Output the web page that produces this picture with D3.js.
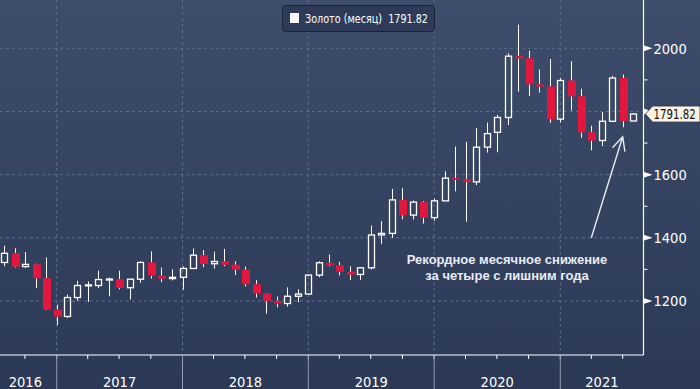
<!DOCTYPE html>
<html>
  <head>
    <meta charset="utf-8">
    <title>Золото (месяц)</title>
    <script src="https://d3js.org/d3.v7.min.js"></script>
    <style>
      body { margin: 0; background: #34425f; }
      .axis-label { font-family: "Liberation Sans Narrow", "DejaVu Sans Condensed", sans-serif; font-size: 14.5px; fill: #ffffff; }
      .note { font-family: "Liberation Sans", Arial, sans-serif; font-size: 13px; font-weight: bold; fill: #e8ecf2; }
    </style>
  </head>
  <body>
    <svg width="700" height="389"></svg>
    <script>
      // monthly gold candles, Jul 2016 - Jul 2021
      const months = ["2016-07","2016-08","2016-09","2016-10","2016-11","2016-12",
        "2017-01","2017-02","2017-03","2017-04","2017-05","2017-06","2017-07","2017-08","2017-09","2017-10","2017-11","2017-12",
        "2018-01","2018-02","2018-03","2018-04","2018-05","2018-06","2018-07","2018-08","2018-09","2018-10","2018-11","2018-12",
        "2019-01","2019-02","2019-03","2019-04","2019-05","2019-06","2019-07","2019-08","2019-09","2019-10","2019-11","2019-12",
        "2020-01","2020-02","2020-03","2020-04","2020-05","2020-06","2020-07","2020-08","2020-09","2020-10","2020-11","2020-12",
        "2021-01","2021-02","2021-03","2021-04","2021-05","2021-06","2021-07"];
      const opens = [1322,1351,1309,1316,1272,1173,
        1151,1211,1249,1249,1268,1269,1242,1269,1322,1280,1271,1275,
        1303,1345,1318,1325,1315,1299,1253,1224,1201,1192,1215,1222,
        1282,1321,1313,1292,1284,1305,1409,1414,1520,1472,1513,1464,
        1517,1589,1585,1577,1687,1734,1781,1975,1968,1886,1879,1776,
        1898,1848,1734,1708,1769,1906,1770];
      const highs = [1375,1367,1355,1318,1338,1188,
        1220,1264,1262,1296,1274,1296,1270,1326,1357,1306,1300,1309,
        1366,1361,1356,1365,1326,1309,1266,1225,1214,1243,1237,1284,
        1326,1347,1324,1310,1306,1439,1453,1555,1557,1518,1516,1524,
        1611,1689,1704,1747,1765,1789,1984,2075,1992,1933,1966,1906,
        1959,1872,1755,1798,1913,1917,1795];
      const lows = [1310,1306,1305,1241,1171,1124,
        1146,1201,1197,1241,1215,1237,1205,1258,1271,1260,1265,1236,
        1302,1307,1303,1310,1282,1246,1211,1160,1180,1182,1196,1221,
        1275,1310,1281,1266,1267,1300,1381,1400,1459,1458,1445,1454,
        1517,1547,1451,1567,1670,1671,1757,1863,1849,1860,1764,1765,
        1803,1717,1677,1690,1766,1750,1768];
      const closes = [1351,1309,1316,1272,1173,1151,
        1211,1249,1251,1268,1269.5,1242,1269,1322,1280,1271,1275,1303,
        1345,1318,1325,1315,1299,1253,1224,1201,1192,1215,1222,1282,
        1321,1313,1292,1284,1305,1409,1414,1520,1472,1513,1464,1517,
        1589,1585,1577,1687,1730,1781,1975,1968,1886,1879,1776,1898,
        1848,1734,1708,1769,1906,1770,1792];
      const yTicks = [1200, 1300, 1400, 1500, 1600, 1700, 1800, 1900, 2000];
      const years = [2016, 2017, 2018, 2019, 2020, 2021];
      const lastPrice = 1791.82;
      const legendText = "Золото (месяц)  1791.82";
      const noteLines = ["Рекордное месячное снижение", "за четыре с лишним года"];

      const W = 700, H = 389;
      const plotRight = 643.5, plotBottom = 355;
      const svg = d3.select("svg");
      const parse = d3.utcParse("%Y-%m");

      // candle sits at the end of its month
      const data = months.map((m, i) => ({
        date: d3.utcMonth.offset(parse(m), 1),
        o: opens[i], h: highs[i], l: lows[i], c: closes[i]
      }));

      const x = d3.scaleUtc()
        .domain([new Date(Date.UTC(2017, 0, 1)), new Date(Date.UTC(2021, 0, 1))])
        .range([56.7, 560.3]);
      const y = d3.scaleLinear().domain([1200, 2000]).range([301, 48.3]);

      // background
      const defs = svg.append("defs");
      const grad = defs.append("linearGradient").attr("id", "bg")
        .attr("x1", 0).attr("y1", 0).attr("x2", 0).attr("y2", 1);
      grad.append("stop").attr("offset", "0%").attr("stop-color", "#3e4d6c");
      grad.append("stop").attr("offset", "100%").attr("stop-color", "#2b3956");
      defs.append("clipPath").attr("id", "plot").append("rect")
        .attr("x", 0).attr("y", 0).attr("width", plotRight).attr("height", plotBottom);
      svg.append("rect").attr("width", W).attr("height", H).attr("fill", "url(#bg)");

      // grid
      const grid = svg.append("g").attr("stroke", "#5b6e8e").attr("stroke-dasharray", "3,3");
      grid.selectAll(".hg").data(yTicks.filter(d => d % 200 === 0)).enter().append("line")
        .attr("x1", 0).attr("x2", plotRight).attr("y1", d => y(d)).attr("y2", d => y(d));
      grid.selectAll(".vg").data(years.slice(1)).enter().append("line")
        .attr("x1", d => x(new Date(Date.UTC(d, 0, 1)))).attr("x2", d => x(new Date(Date.UTC(d, 0, 1))))
        .attr("y1", 0).attr("y2", plotBottom);

      // candles
      const cw = 7;
      const candles = svg.append("g").attr("clip-path", "url(#plot)");
      const up = data.filter(d => d.c >= d.o), down = data.filter(d => d.c < d.o);
      candles.selectAll(".wickTop").data(data).enter().append("line")
        .attr("x1", d => Math.round(x(d.date)) + 0.5).attr("x2", d => Math.round(x(d.date)) + 0.5)
        .attr("y1", d => y(d.h)).attr("y2", d => y(Math.max(d.o, d.c)))
        .attr("stroke", "#ffffff").attr("stroke-width", 1);
      candles.selectAll(".wickBot").data(data).enter().append("line")
        .attr("x1", d => Math.round(x(d.date)) + 0.5).attr("x2", d => Math.round(x(d.date)) + 0.5)
        .attr("y1", d => y(Math.min(d.o, d.c))).attr("y2", d => y(d.l))
        .attr("stroke", "#ffffff").attr("stroke-width", 1);
      candles.selectAll(".up").data(up).enter().append("rect")
        .attr("x", d => Math.round(x(d.date)) - 2.5)
        .attr("y", d => y(d.c))
        .attr("width", cw - 1)
        .attr("height", d => Math.max(1, y(d.o) - y(d.c)))
        .attr("fill", "none").attr("stroke", "#ffffff").attr("stroke-width", 1.3);
      candles.selectAll(".down").data(down).enter().append("rect")
        .attr("x", d => Math.round(x(d.date)) - 3)
        .attr("y", d => y(d.o))
        .attr("width", cw + 1)
        .attr("height", d => Math.max(1.5, y(d.c) - y(d.o)))
        .attr("fill", "#e3173e");

      // axes lines
      svg.append("line").attr("x1", plotRight).attr("x2", plotRight).attr("y1", 0).attr("y2", plotBottom)
        .attr("stroke", "#ffffff").attr("stroke-width", 1.2);
      svg.append("line").attr("x1", 0).attr("x2", plotRight).attr("y1", plotBottom).attr("y2", plotBottom)
        .attr("stroke", "#ffffff").attr("stroke-width", 1.2);

      // y axis: minor ticks and labelled markers (1800 sits under the price tag)
      const yAxis = svg.append("g");
      yAxis.selectAll(".minor").data(yTicks.filter(d => d % 200 !== 0)).enter().append("line")
        .attr("x1", plotRight).attr("x2", plotRight + 4)
        .attr("y1", d => y(d)).attr("y2", d => y(d))
        .attr("stroke", "#ffffff");
      const major = yTicks.filter(d => d % 200 === 0);
      yAxis.selectAll(".mark").data(major).enter().append("path")
        .attr("d", d => `M${plotRight},${y(d) - 3}L${plotRight + 9},${y(d)}L${plotRight},${y(d) + 3}Z`)
        .attr("fill", "#ffffff");
      yAxis.selectAll(".lab").data(major.filter(d => Math.abs(y(d) - y(lastPrice)) > 12)).enter().append("text")
        .attr("class", "axis-label")
        .attr("x", plotRight + 10).attr("y", d => y(d)).attr("dy", "0.36em")
        .text(d => d);

      // x axis: quarter ticks, year dividers, year labels
      const quarters = d3.utcMonth.every(3).range(new Date(Date.UTC(2016, 6, 2)), new Date(Date.UTC(2021, 7, 1)))
        .filter(d => x(d) > 0 && x(d) < plotRight);
      svg.selectAll(".qt").data(quarters).enter().append("line")
        .attr("x1", d => x(d)).attr("x2", d => x(d))
        .attr("y1", plotBottom).attr("y2", plotBottom + 4)
        .attr("stroke", "#ffffff");
      svg.selectAll(".yd").data(years.slice(1)).enter().append("line")
        .attr("x1", d => x(new Date(Date.UTC(d, 0, 1)))).attr("x2", d => x(new Date(Date.UTC(d, 0, 1))))
        .attr("y1", plotBottom).attr("y2", H)
        .attr("stroke", "#8f9bb0");
      svg.selectAll(".yl").data(years).enter().append("text")
        .attr("class", "axis-label")
        .attr("text-anchor", "middle")
        .attr("x", d => {
          const a = Math.max(0, x(new Date(Date.UTC(d, 0, 1))));
          const b = Math.min(plotRight, x(new Date(Date.UTC(d + 1, 0, 1))));
          return (a + b) / 2 - (a === 0 ? 3 : 0);
        })
        .attr("y", 387)
        .text(d => d);

      // last price tag
      const py = y(lastPrice);
      svg.append("path")
        .attr("d", `M${plotRight + 2},${py}L${plotRight + 9},${py - 8}L${W},${py - 8}L${W},${py + 8}L${plotRight + 9},${py + 8}Z`)
        .attr("fill", "#fbf3e2").attr("stroke", "#2a3550").attr("stroke-width", 0.8);
      svg.append("g").attr("transform", `translate(${plotRight + 10},${py}) scale(0.84,1)`)
        .append("text").attr("class", "axis-label")
        .attr("x", 0).attr("y", 0).attr("dy", "0.36em")
        .style("fill", "#111111").style("font-size", "13.5px")
        .text(d3.format(".2f")(lastPrice));

      // legend
      const lg = svg.append("g");
      lg.append("rect").attr("x", 282.5).attr("y", 5.5).attr("width", 152).attr("height", 26).attr("rx", 3)
        .attr("fill", "#2e3b58").attr("stroke", "#1b2337");
      lg.append("rect").attr("x", 290).attr("y", 13).attr("width", 9).attr("height", 10).attr("fill", "#fdf6f6");
      lg.append("text").attr("class", "axis-label").style("font-size", "13px").style("white-space", "pre")
        .attr("x", 305).attr("y", 18.5).attr("dy", "0.36em")
        .attr("textLength", 123).attr("lengthAdjust", "spacingAndGlyphs")
        .text(legendText);

      // annotation
      svg.append("text").attr("class", "note").attr("text-anchor", "middle")
        .selectAll("tspan").data(noteLines).enter().append("tspan")
        .attr("x", 507).attr("y", (d, i) => 264 + i * 15.5)
        .text(d => d);
      const a0 = [x(new Date(Date.UTC(2021, 3, 1))), y(1400)];
      const a1 = [x(new Date(Date.UTC(2021, 6, 1))), y(1720)];
      const ang = Math.atan2(a1[1] - a0[1], a1[0] - a0[0]);
      const head = 15, spread = 0.45;
      svg.append("path")
        .attr("d", `M${a0[0]},${a0[1]}L${a1[0]},${a1[1]}` +
          `M${a1[0] - head * Math.cos(ang - spread)},${a1[1] - head * Math.sin(ang - spread)}L${a1[0]},${a1[1]}` +
          `L${a1[0] - head * Math.cos(ang + spread)},${a1[1] - head * Math.sin(ang + spread)}`)
        .attr("fill", "none").attr("stroke", "#e8ecf2").attr("stroke-width", 1.4);
    </script>
  </body>
</html>
